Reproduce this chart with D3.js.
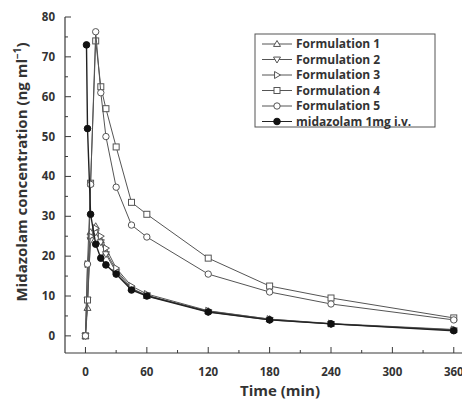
<!DOCTYPE html>
<html><head><meta charset="utf-8">
<script src="https://cdn.jsdelivr.net/npm/d3@7"></script>
<style>body{margin:0;background:#fff}svg{display:block}</style>
</head><body>
<svg id="c" width="462" height="401"></svg>
<script>
const times = [0, 2, 5, 10, 15, 20, 30, 45, 60, 120, 180, 240, 360];
const timesIV = [1, 2, 5, 10, 15, 20, 30, 45, 60, 120, 180, 240, 360];
const f1 = [0, 7, 26, 27.5, 24, 21, 16.5, 12, 10, 6.2, 4.2, 3, 1.5];
const f2 = [0, 9, 24, 26, 23.5, 20.5, 16, 11.8, 10.2, 6, 4, 3, 1.4];
const f3 = [0, 18, 25, 27, 25, 22, 17, 12.5, 10.5, 6.3, 4.2, 3.1, 1.6];
const f4 = [0, 9, 38.3, 74, 62.5, 57, 47.4, 33.5, 30.5, 19.5, 12.5, 9.5, 4.5];
const f5 = [0, 18, 38, 76.3, 61, 50, 37.3, 27.8, 24.8, 15.5, 11, 8, 4];
const iv = [73, 52, 30.5, 23, 19.5, 17.8, 15.5, 11.5, 10, 6, 4, 3, 1.3];
const seriesNames = ["Formulation 1", "Formulation 2", "Formulation 3", "Formulation 4", "Formulation 5", "midazolam 1mg i.v."];
const yTicks = [0, 10, 20, 30, 40, 50, 60, 70, 80];
const xTicks = [0, 60, 120, 180, 240, 300, 360];

const series = [
  {name: seriesNames[0], t: times, v: f1, sym: "up"},
  {name: seriesNames[1], t: times, v: f2, sym: "down"},
  {name: seriesNames[2], t: times, v: f3, sym: "right"},
  {name: seriesNames[3], t: times, v: f4, sym: "square"},
  {name: seriesNames[4], t: times, v: f5, sym: "circle"},
  {name: seriesNames[5], t: timesIV, v: iv, sym: "filled"}
];

const FONT = "'Open Sans', Lato, sans-serif";
const svg = d3.select("#c");
const x = d3.scaleLinear().domain([-20, 370]).range([65, 464]);
const y = d3.scaleLinear().domain([-4.3, 80]).range([353, 17]);
const ink = "#3a3a3a";

// axes
const gx = svg.append("g").attr("transform", `translate(0,${y(-4.3)})`);
gx.append("line").attr("x1", x(-20)).attr("x2", 462).attr("stroke", ink).attr("stroke-width", 1.2);
gx.selectAll(".mt").data(d3.range(30, 370, 60)).join("line")
  .attr("x1", d => x(d)).attr("x2", d => x(d)).attr("y1", 0).attr("y2", -3).attr("stroke", ink);
gx.selectAll(".Mt").data(xTicks).join("line")
  .attr("x1", d => x(d)).attr("x2", d => x(d)).attr("y1", 0).attr("y2", -6).attr("stroke", ink);
gx.selectAll("text").data(xTicks).join("text")
  .attr("x", d => x(d)).attr("y", 23).attr("text-anchor", "middle")
  .attr("font-family", FONT).attr("font-weight", "bold").attr("font-size", 11.5).attr("fill", "#333")
  .text(d => d);

const gy = svg.append("g").attr("transform", `translate(${x(-20)},0)`);
gy.append("line").attr("y1", y(-4.3)).attr("y2", y(80)).attr("stroke", ink).attr("stroke-width", 1.2);
gy.selectAll(".mt").data(d3.range(5, 80, 10)).join("line")
  .attr("y1", d => y(d)).attr("y2", d => y(d)).attr("x1", 0).attr("x2", 3).attr("stroke", ink);
gy.selectAll(".Mt").data(yTicks).join("line")
  .attr("y1", d => y(d)).attr("y2", d => y(d)).attr("x1", 0).attr("x2", 6).attr("stroke", ink);
gy.selectAll("text").data(yTicks).join("text")
  .attr("x", -10).attr("y", d => y(d) + 4).attr("text-anchor", "end")
  .attr("font-family", FONT).attr("font-weight", "bold").attr("font-size", 11.5).attr("fill", "#333")
  .text(d => d);

svg.append("text").attr("x", 280).attr("y", 396).attr("text-anchor", "middle")
  .attr("font-family", FONT).attr("font-weight", "bold").attr("font-size", 15).attr("fill", "#333")
  .text("Time (min)");
const yl = svg.append("text").attr("transform", "translate(27,172) rotate(-90)").attr("text-anchor", "middle")
  .attr("font-family", FONT).attr("font-weight", "bold").attr("font-size", 15).attr("fill", "#333");
yl.append("tspan").text("Midazolam concentration (ng ml");
yl.append("tspan").attr("dy", -6).attr("font-size", 10).text("−1");
yl.append("tspan").attr("dy", 6).text(")");

function drawSym(g, sym, cx, cy) {
  const s = 3.5;
  if (sym === "filled") {
    g.append("circle").attr("cx", cx).attr("cy", cy).attr("r", 3.3).attr("fill", "#111").attr("stroke", "#111");
  } else if (sym === "circle") {
    g.append("circle").attr("cx", cx).attr("cy", cy).attr("r", 3.2).attr("fill", "#fff").attr("stroke", "#555");
  } else if (sym === "square") {
    g.append("rect").attr("x", cx - 3).attr("y", cy - 3).attr("width", 6).attr("height", 6).attr("fill", "#fff").attr("stroke", "#555");
  } else {
    let pts;
    if (sym === "up") pts = [[cx, cy - s], [cx + s, cy + s * 0.7], [cx - s, cy + s * 0.7]];
    if (sym === "down") pts = [[cx, cy + s], [cx + s, cy - s * 0.7], [cx - s, cy - s * 0.7]];
    if (sym === "right") pts = [[cx + s, cy], [cx - s * 0.7, cy - s], [cx - s * 0.7, cy + s]];
    g.append("polygon").attr("points", pts.map(p => p.join(",")).join(" ")).attr("fill", "#fff").attr("stroke", "#555");
  }
}

const line = d3.line().x(d => x(d[0])).y(d => y(d[1]));
series.forEach(s => {
  const pts = s.t.map((t, i) => [t, s.v[i]]);
  const g = svg.append("g");
  g.append("path").attr("d", line(pts)).attr("fill", "none")
    .attr("stroke", s.sym === "filled" ? "#222" : "#555").attr("stroke-width", s.sym === "filled" ? 1.4 : 1);
  pts.forEach(p => drawSym(g, s.sym, x(p[0]), y(p[1])));
});

// legend
const lg = svg.append("g");
lg.append("rect").attr("x", 255).attr("y", 34).attr("width", 180).attr("height", 93)
  .attr("fill", "#fff").attr("stroke", "#555").attr("stroke-width", 1);
series.forEach((s, i) => {
  const ly = 44 + i * 15.5;
  lg.append("line").attr("x1", 262).attr("x2", 292).attr("y1", ly).attr("y2", ly)
    .attr("stroke", s.sym === "filled" ? "#222" : "#555");
  drawSym(lg, s.sym, 277, ly);
  lg.append("text").attr("x", 296).attr("y", ly + 4.2)
    .attr("font-family", FONT).attr("font-weight", "bold").attr("font-size", 12).attr("fill", "#333")
    .text(s.name);
});
</script>
</body></html>
